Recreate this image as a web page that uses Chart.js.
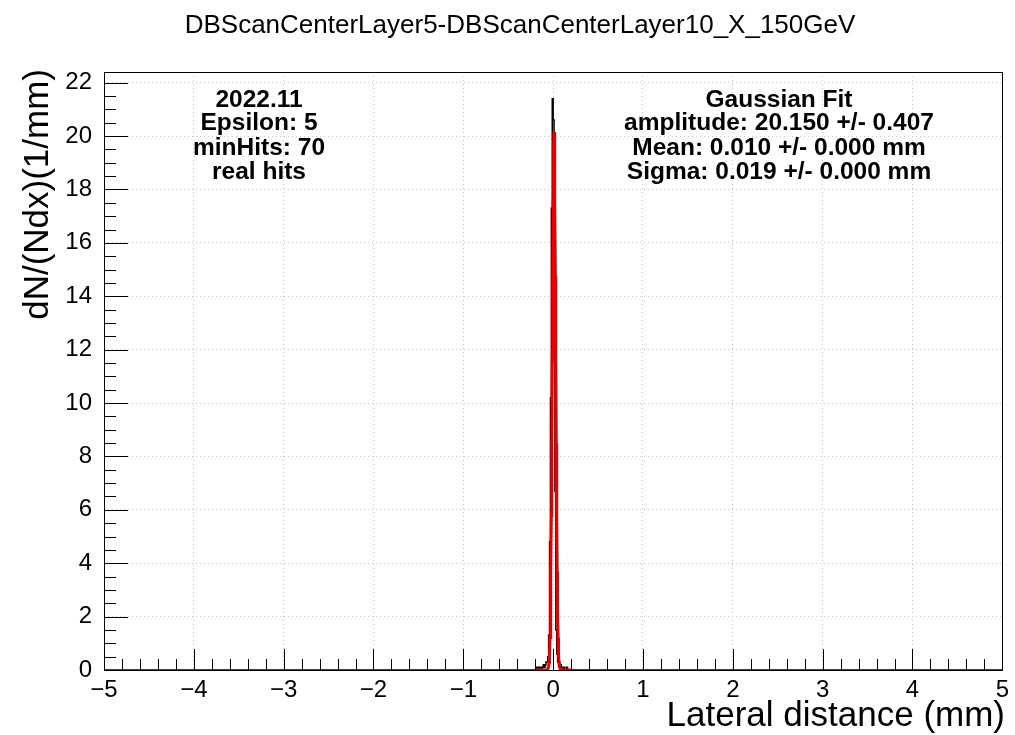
<!DOCTYPE html>
<html>
<head>
<meta charset="utf-8">
<script src="https://cdn.jsdelivr.net/npm/chart.js@4.4.1/dist/chart.umd.min.js"></script>
<style>
html,body{margin:0;padding:0;background:#fff;}
canvas{display:block;}
</style>
</head>
<body>
<canvas id="c" width="1015" height="735"></canvas>
<script>
// ---------------- data ----------------
const chartTitle = "DBScanCenterLayer5-DBScanCenterLayer10_X_150GeV";
const xAxisTitle = "Lateral distance (mm)";
const yAxisTitle = "dN/(Ndx)(1/mm)";
const xTickValues = [-5,-4,-3,-2,-1,0,1,2,3,4,5];
const yTickValues = [0,2,4,6,8,10,12,14,16,18,20,22];
const leftText = ["2022.11","Epsilon: 5","minHits: 70","real hits"];
const rightText = ["Gaussian Fit","amplitude: 20.150 +/- 0.407","Mean: 0.010 +/- 0.000 mm","Sigma: 0.019 +/- 0.000 mm"];

// histogram bin left edges (width 0.01 mm) and contents
const binEdges = [-0.20,-0.19,-0.18,-0.17,-0.16,-0.15,-0.14,-0.13,-0.12,-0.11,
                  -0.10,-0.09,-0.08,-0.07,-0.06,-0.05,-0.04,-0.03,-0.02,-0.01,
                   0.00, 0.01, 0.02, 0.03, 0.04, 0.05, 0.06, 0.07, 0.08, 0.09,
                   0.10, 0.11, 0.12, 0.13, 0.14, 0.15, 0.16, 0.17, 0.18, 0.19, 0.20];
const binCounts = [0.0,0.0,0.1,0.0,0.1,0.0,0.1,0.1,0.0,0.1,
                   0.2,0.1,0.2,0.3,0.3,0.5,1.3,4.8,10.2,17.3,
                   21.4,20.6,15.4,6.7,1.5,0.6,0.3,0.2,0.1,0.2,
                   0.1,0.0,0.1,0.1,0.0,0.0,0.1,0.0,0.0,0.0];

// Gaussian fit curve points
const fitX = [-0.20,-0.10,-0.07,-0.06,-0.05,-0.045,-0.04,-0.035,-0.03,-0.025,-0.02,-0.015,-0.01,-0.005,
               0.00, 0.005, 0.01, 0.015, 0.02, 0.025, 0.03, 0.035, 0.04, 0.045, 0.05, 0.055, 0.06, 0.065,
               0.07, 0.08, 0.09, 0.12, 0.20];
const fitY = [0.00,0.00,0.00,0.02,0.14,0.30,0.63,1.22,2.20,3.69,5.79,8.48,11.59,14.75,
              17.54,19.47,20.15,19.47,17.54,14.75,11.59,8.48,5.79,3.69,2.20,1.22,0.63,0.30,
              0.14,0.02,0.00,0.00,0.00];

const xMin = -5, xMax = 5, yMin = 0, yMax = 22.4;

// ---------------- build datasets ----------------
const histPoints = [{x: xMin, y: 0}];
for (let i = 0; i < binCounts.length; i++) histPoints.push({x: binEdges[i], y: binCounts[i]});
histPoints.push({x: binEdges[binEdges.length - 1], y: 0});
histPoints.push({x: xMax, y: 0});
const fitPoints = fitX.map((x, i) => ({x: x, y: fitY[i]}));

const FONT = "'Liberation Sans', Arial, Helvetica, sans-serif";

const decorPlugin = {
  id: 'decor',
  afterDatasetsDraw(chart) {
    const ctx = chart.ctx;
    const a = chart.chartArea;
    const xs = chart.scales.x, ys = chart.scales.y;
    ctx.save();
    ctx.strokeStyle = '#000';
    ctx.lineWidth = 1;
    ctx.beginPath();
    for (let k = 0; k <= 50; k++) {
      const v = xMin + k * 0.2;
      const px = Math.round(xs.getPixelForValue(v)) + 0.5;
      const len = (k % 5 === 0) ? 21 : 11;
      ctx.moveTo(px, a.bottom);
      ctx.lineTo(px, a.bottom - len);
    }
    for (let k = 0; k <= 44; k++) {
      const v = k * 0.5;
      const py = Math.round(ys.getPixelForValue(v)) + 0.5;
      const len = (k % 4 === 0) ? 24 : 12;
      ctx.moveTo(a.left, py);
      ctx.lineTo(a.left + len, py);
    }
    ctx.stroke();
    ctx.strokeRect(Math.round(a.left) + 0.5, Math.round(a.top) + 0.5,
                   Math.round(a.right - a.left), Math.round(a.bottom - a.top));
    ctx.restore();
  },
  afterDraw(chart) {
    const ctx = chart.ctx;
    ctx.save();
    ctx.fillStyle = '#000';
    ctx.font = "26px " + FONT;
    ctx.textAlign = 'center';
    ctx.textBaseline = 'middle';
    ctx.fillText(chartTitle, 520, 26);
    ctx.font = "35px " + FONT;
    ctx.textAlign = 'right';
    ctx.fillText(xAxisTitle, 1005, 716);
    ctx.save();
    ctx.translate(38, 69);
    ctx.rotate(-Math.PI / 2);
    ctx.textAlign = 'right';
    ctx.textBaseline = 'middle';
    ctx.fillText(yAxisTitle, 0, 0);
    ctx.restore();
    ctx.font = "bold 24.5px " + FONT;
    ctx.textAlign = 'center';
    const ly = [100, 123, 148, 172];
    leftText.forEach((t, i) => ctx.fillText(t, 259, ly[i]));
    rightText.forEach((t, i) => ctx.fillText(t, 779, ly[i]));
    ctx.restore();
  }
};

new Chart(document.getElementById('c'), {
  type: 'line',
  data: {
    datasets: [
      {
        label: 'fit',
        data: fitPoints,
        borderColor: 'rgb(235,0,0)',
        borderWidth: 3,
        pointRadius: 0,
        tension: 0,
        fill: false,
        order: 0
      },
      {
        label: 'hist',
        data: histPoints,
        borderColor: '#000',
        borderWidth: 1.5,
        pointRadius: 0,
        stepped: 'after',
        fill: false,
        order: 1
      }
    ]
  },
  options: {
    responsive: false,
    animation: false,
    devicePixelRatio: 1,
    layout: { padding: { left: 0, right: 10, top: 72, bottom: 0 } },
    plugins: {
      legend: { display: false },
      title: { display: false },
      tooltip: { enabled: false }
    },
    scales: {
      x: {
        type: 'linear',
        min: xMin,
        max: xMax,
        afterBuildTicks: (s) => { s.ticks = xTickValues.map(v => ({value: v})); },
        afterFit: (s) => { s.height = 65; },
        grid: { color: '#c8c8c8', drawTicks: false, lineWidth: 1 },
        border: { display: false, dash: [1, 3] },
        ticks: {
          color: '#000',
          font: { family: FONT, size: 24 },
          padding: 6,
          maxRotation: 0,
          autoSkip: false,
          callback: (v) => String(v).replace('-', '\u2212')
        }
      },
      y: {
        type: 'linear',
        min: yMin,
        max: yMax,
        afterBuildTicks: (s) => { s.ticks = yTickValues.map(v => ({value: v})); },
        afterFit: (s) => { s.width = 104; },
        grid: { color: '#c8c8c8', drawTicks: false, lineWidth: 1 },
        border: { display: false, dash: [1, 3] },
        ticks: {
          color: '#000',
          font: { family: FONT, size: 24 },
          padding: 12,
          autoSkip: false,
          callback: (v) => String(v)
        }
      }
    }
  },
  plugins: [decorPlugin]
});
</script>
</body>
</html>
